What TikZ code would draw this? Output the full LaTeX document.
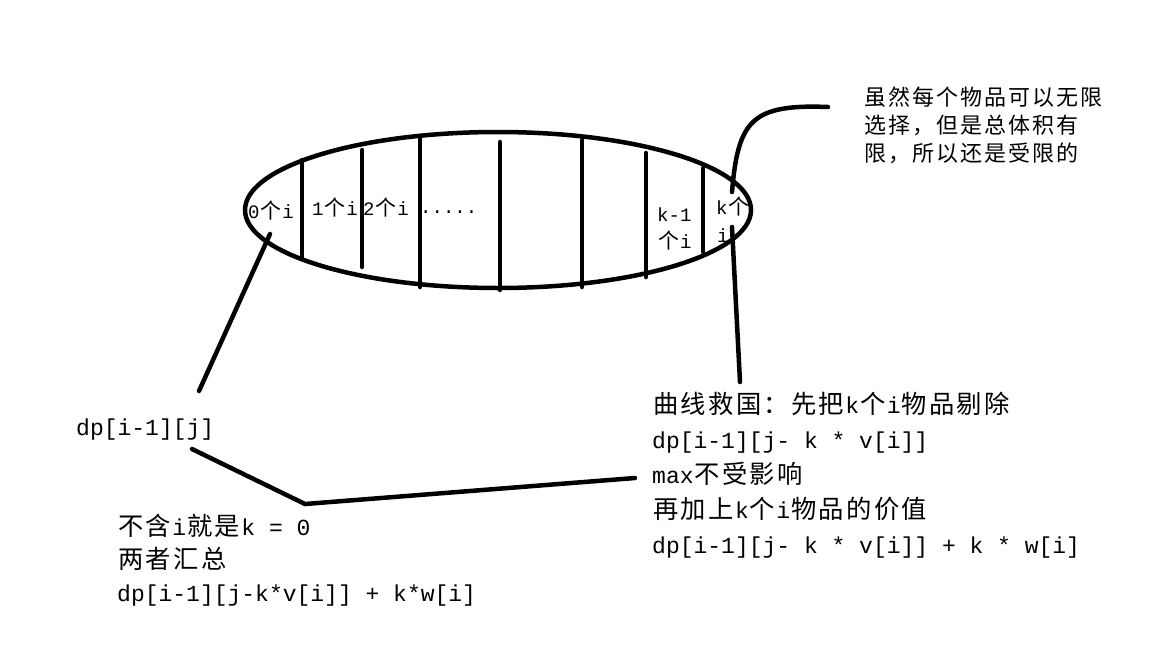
\documentclass[tikz,border=0pt]{standalone}
\usepackage{fontspec}
\setmainfont{Liberation Mono}
\newfontfamily\cjk[Scale=1.1]{Noto Sans CJK SC}
\usetikzlibrary{shapes.geometric}
% each CJK character on a fixed grid, twice the width of a latin one
\newcommand\zhend{}
\def\zhchar#1{\ifx#1\zhend\else\makebox[1.2em][c]{\cjk #1}\expandafter\zhchar\fi}
\newcommand\zh[1]{\zhchar#1\zhend}

\begin{document}
\begin{tikzpicture}[x=1pt, y=-1pt,
   stroke/.style = {line width=4.5pt, line cap=round},% thick hand drawn strokes
      lbl/.style = {inner sep=0pt, anchor=base west,
                    font=\fontsize{19}{22}\selectfont},
      txt/.style = {inner sep=0pt, anchor=base west,
                    font=\fontsize{23}{28}\selectfont},
     note/.style = {inner sep=0pt, anchor=base west,
                    font=\fontsize{20}{24}\selectfont},
                        ]
\useasboundingbox (0,0) rectangle (1152,648);
% labels inside the bag
\node[lbl] (l0)   at (248,218) {0\zh{个}i};
\node[lbl] (l1)   at (312,215) {1\zh{个}i};
\node[lbl] (l2)   at (363,215) {2\zh{个}i};
\node[lbl] (ldot) at (420,213) {.....};
\node[lbl] (lk1a) at (657,221) {k-1};
\node[lbl] (lk1b) at (657,248) {\zh{个}i};
\node[lbl] (lka)  at (716,214) {k\zh{个}};
\node[lbl] (lkb)  at (717,242) {i};
% the bag and its slices
\node[draw, ellipse, stroke, inner sep=0pt,
      minimum width=506pt, minimum height=156pt] (bag) at (498,210) {};
\foreach \x/\ya/\yb in {302/160/257, 362/150/267, 420/138/287, 500/142/290,
                        582/140/287, 646/153/277, 703/168/252}% <-- slices
    \draw[stroke] (\x,\ya) -- (\x,\yb);
% note at the top right
\foreach \t [count=\n] in {{\zh{虽然每个物品可以无限}},
                           {\zh{选择，但是总体积有}},
                           {\zh{限，所以还是受限的}}}
    \node[note] (n\n) at (863,{105+28*(\n-1)}) {\t};
% left column
\node[txt] (dpj) at (76,435) {dp[i-1][j]};
\foreach \t [count=\n] in {{\zh{不含}i\zh{就是}k = 0},
                           {\zh{两者汇总}},
                           {dp[i-1][j-k*v[i]] + k*w[i]}}
    \node[txt] (s\n) at (117,{535+33*(\n-1)}) {\t};
% right column
\foreach \t [count=\n] in {{\zh{曲线救国：先把}k\zh{个}i\zh{物品剔除}},
                           {dp[i-1][j- k * v[i]]},
                           {max\zh{不受影响}},
                           {\zh{再加上}k\zh{个}i\zh{物品的价值}},
                           {dp[i-1][j- k * v[i]] + k * w[i]}}
    \node[txt] (r\n) at (652,{413+35*(\n-1)}) {\t};
% connectors
\coordinate (ktop)  at (732,192);
\coordinate (ktail) at (828,107);
\coordinate (klow)  at (732,227);
\coordinate (kfoot) at (740,382);
\coordinate (zin)   at (270,234);
\coordinate (zout)  at (199,391);
\coordinate (jend)  at (192,449);
\coordinate (kink)  at (305,504);
\coordinate (mend)  at (635,478);
\draw[stroke] (ktop) .. controls (738,120) and (752,104) .. (ktail);
\draw[stroke] (klow) -- (kfoot);
\draw[stroke] (zin) -- (zout);
\draw[stroke] (jend) -- (kink) -- (mend);
\end{tikzpicture}
\end{document}
